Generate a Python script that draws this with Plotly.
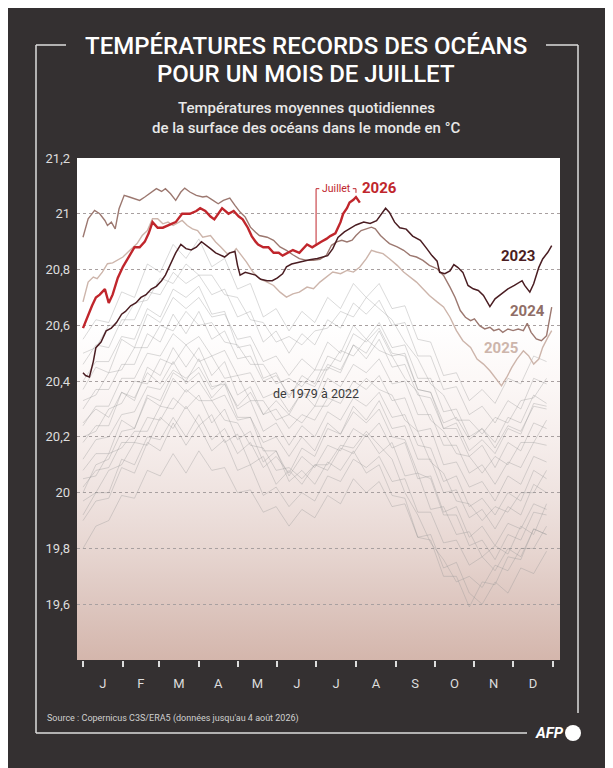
import base64
import plotly.graph_objects as go

# --- données ---
MONTH_STARTS = [0, 31, 59, 90, 120, 151, 181, 212, 243, 273, 304, 334, 365]
MONTH_LABELS = ["J", "F", "M", "A", "M", "J", "J", "A", "S", "O", "N", "D"]
Y_TICKS = [19.6, 19.8, 20.0, 20.2, 20.4, 20.6, 20.8, 21.0, 21.2]
Y_TICK_LABELS = ["19,6", "19,8", "20", "20,2", "20,4", "20,6", "20,8", "21", "21,2"]

DAYS_2026 = [0, 5, 7, 10, 13, 17, 20, 23, 27, 31, 36, 40, 44, 48, 51, 54, 58, 62, 67, 72,
             77, 83, 88, 91, 95, 99, 102, 108, 113, 117, 121, 124, 128, 131, 134, 136, 140,
             144, 148, 152, 155, 159, 163, 168, 174, 178, 181, 185, 189, 192, 196, 200, 202,
             205, 207, 210, 212, 215]
SST_2026 = [20.59, 20.65, 20.67, 20.70, 20.71, 20.73, 20.68, 20.71, 20.77, 20.81, 20.85, 20.88,
            20.88, 20.90, 20.93, 20.97, 20.95, 20.95, 20.96, 20.97, 21.00, 21.00, 21.01, 21.02,
            21.01, 20.99, 20.98, 21.02, 21.00, 21.01, 20.99, 20.98, 20.95, 20.92, 20.90, 20.89,
            20.88, 20.88, 20.86, 20.86, 20.85, 20.86, 20.87, 20.86, 20.89, 20.88, 20.89, 20.90,
            20.91, 20.92, 20.93, 20.97, 21.00, 21.02, 21.04, 21.05, 21.06, 21.04]

DAYS_2023 = [0, 2, 5, 8, 10, 14, 18, 22, 26, 30, 33, 37, 41, 45, 49, 53, 57, 61, 64, 68, 72,
             76, 80, 84, 88, 92, 95, 99, 103, 107, 110, 114, 118, 120, 122, 126, 130, 134, 138,
             143, 147, 151, 155, 158, 162, 166, 171, 176, 182, 186, 190, 194, 198, 203, 209,
             212, 218, 223, 228, 232, 235, 238, 242, 246, 251, 256, 262, 267, 271, 275, 277,
             281, 285, 288, 291, 295, 299, 303, 307, 311, 316, 320, 325, 330, 335, 341, 343,
             347, 350, 354, 357, 361, 364]
SST_2023 = [20.43, 20.42, 20.415, 20.47, 20.52, 20.54, 20.58, 20.59, 20.61, 20.64, 20.65, 20.67,
            20.68, 20.70, 20.71, 20.73, 20.74, 20.76, 20.78, 20.82, 20.86, 20.89, 20.875, 20.87,
            20.88, 20.90, 20.89, 20.875, 20.86, 20.85, 20.845, 20.86, 20.865, 20.815, 20.78,
            20.79, 20.785, 20.78, 20.765, 20.76, 20.76, 20.77, 20.785, 20.81, 20.82, 20.825,
            20.83, 20.835, 20.84, 20.845, 20.85, 20.875, 20.915, 20.935, 20.95, 20.96, 20.97,
            20.965, 20.975, 21.00, 21.02, 21.005, 20.97, 20.95, 20.945, 20.92, 20.905, 20.875,
            20.85, 20.83, 20.79, 20.785, 20.795, 20.818, 20.808, 20.79, 20.743, 20.731, 20.725,
            20.707, 20.667, 20.695, 20.713, 20.731, 20.743, 20.76, 20.743, 20.719, 20.749,
            20.808, 20.838, 20.862, 20.886]

DAYS_2024 = [0, 4, 9, 13, 17, 19, 22, 25, 28, 32, 36, 40, 44, 48, 52, 57, 61, 64, 68, 72, 76,
             79, 83, 88, 93, 96, 101, 105, 109, 114, 118, 122, 126, 130, 134, 137, 143, 148,
             153, 158, 163, 168, 174, 179, 184, 189, 193, 197, 201, 205, 209, 212, 216, 220,
             224, 227, 231, 235, 238, 244, 249, 254, 259, 264, 269, 275, 280, 285, 289, 293,
             297, 301, 304, 308, 312, 316, 319, 323, 326, 330, 334, 338, 342, 345, 348, 352,
             356, 360, 362, 364]
SST_2024 = [20.916, 20.982, 21.012, 21.0, 20.976, 20.958, 20.97, 20.946, 21.018, 21.066, 21.06,
            21.054, 21.048, 21.06, 21.072, 21.09, 21.08, 21.09, 21.072, 21.048, 21.078, 21.092,
            21.078, 21.066, 21.06, 21.063, 21.048, 21.036, 21.048, 21.056, 21.03, 21.006,
            20.988, 20.952, 20.934, 20.922, 20.916, 20.905, 20.881, 20.869, 20.853, 20.839,
            20.833, 20.833, 20.837, 20.851, 20.887, 20.899, 20.905, 20.899, 20.905, 20.922,
            20.94, 20.946, 20.952, 20.946, 20.922, 20.905, 20.893, 20.881, 20.869, 20.851,
            20.845, 20.833, 20.815, 20.803, 20.779, 20.737, 20.70, 20.653, 20.629, 20.617,
            20.623, 20.599, 20.587, 20.593, 20.581, 20.587, 20.575, 20.587, 20.581, 20.587,
            20.581, 20.607, 20.575, 20.551, 20.545, 20.563, 20.617, 20.665]

DAYS_2025 = [0, 4, 8, 11, 15, 19, 23, 27, 31, 35, 39, 42, 46, 50, 54, 58, 62, 66, 70, 74, 77,
             81, 85, 89, 93, 99, 103, 107, 112, 117, 119, 123, 127, 132, 137, 143, 148, 153,
             158, 163, 168, 174, 179, 184, 189, 194, 200, 205, 210, 215, 220, 224, 228, 233,
             238, 244, 249, 254, 259, 264, 269, 275, 280, 285, 290, 295, 301, 306, 311, 316,
             321, 325, 329, 333, 337, 342, 346, 350, 354, 357, 361, 364]
SST_2025 = [20.684, 20.755, 20.773, 20.767, 20.791, 20.821, 20.824, 20.833, 20.845, 20.863,
            20.881, 20.893, 20.922, 20.94, 20.982, 20.982, 20.964, 20.97, 20.958, 20.97, 20.976,
            20.958, 20.946, 20.94, 20.916, 20.922, 20.899, 20.881, 20.857, 20.863, 20.875,
            20.851, 20.827, 20.791, 20.767, 20.755, 20.743, 20.719, 20.701, 20.713, 20.719,
            20.737, 20.731, 20.755, 20.773, 20.791, 20.785, 20.797, 20.791, 20.809, 20.839,
            20.869, 20.863, 20.857, 20.839, 20.815, 20.791, 20.773, 20.755, 20.731, 20.707,
            20.684, 20.666, 20.629, 20.581, 20.545, 20.521, 20.479, 20.461, 20.437, 20.407,
            20.383, 20.413, 20.449, 20.479, 20.509, 20.491, 20.461, 20.479, 20.521, 20.557,
            20.581]

# 1979-2022 (courbes grises, un point tous les 10 jours)
GRAY_DAYS = [0, 10, 20, 30, 40, 50, 60, 70, 80, 90, 100, 110, 120, 130, 140, 150, 160, 170,
             180, 190, 200, 210, 220, 230, 240, 250, 260, 270, 280, 290, 300, 310, 320, 330,
             340, 350, 360]
G01 = [19.80, 19.88, 19.90, 19.99, 19.98, 20.08, 20.06, 20.14, 20.07, 20.15, 20.08, 20.09, 20.00,
       20.01, 19.93, 19.95, 19.88, 19.94, 19.91, 19.99, 19.96, 20.05, 20.00, 20.04, 19.95, 19.96,
       19.84, 19.85, 19.73, 19.75, 19.64, 19.60, 19.68, 19.64, 19.73, 19.71, 19.79]
G02 = [19.90, 19.97, 19.98, 20.09, 20.07, 20.18, 20.15, 20.25, 20.17, 20.24, 20.15, 20.19, 20.08,
       20.10, 19.99, 20.02, 19.95, 20.00, 19.97, 20.06, 20.04, 20.12, 20.09, 20.13, 20.04, 20.05,
       19.93, 19.93, 19.82, 19.83, 19.74, 19.77, 19.72, 19.80, 19.77, 19.87, 19.85]
G03 = [19.97, 20.00, 20.08, 20.10, 20.18, 20.17, 20.27, 20.23, 20.31, 20.24, 20.28, 20.18, 20.21,
       20.10, 20.13, 20.03, 20.08, 20.03, 20.10, 20.08, 20.16, 20.14, 20.21, 20.14, 20.18, 20.06,
       20.07, 19.94, 19.95, 19.85, 19.86, 19.77, 19.81, 19.78, 19.88, 19.85, 19.96]
G04 = [20.02, 20.08, 20.09, 20.18, 20.18, 20.27, 20.26, 20.34, 20.30, 20.35, 20.25, 20.30, 20.19,
       20.22, 20.11, 20.15, 20.06, 20.13, 20.09, 20.17, 20.15, 20.23, 20.20, 20.25, 20.16, 20.18,
       20.05, 20.06, 19.93, 19.95, 19.84, 19.88, 19.81, 19.89, 19.87, 19.96, 19.94]
G05 = [20.08, 20.14, 20.14, 20.26, 20.23, 20.34, 20.31, 20.41, 20.36, 20.40, 20.33, 20.35, 20.26,
       20.27, 20.18, 20.20, 20.13, 20.20, 20.15, 20.25, 20.21, 20.31, 20.26, 20.33, 20.23, 20.24,
       20.12, 20.12, 20.00, 20.01, 19.91, 19.94, 19.87, 19.95, 19.92, 20.03, 20.00]
G06 = [20.12, 20.19, 20.20, 20.28, 20.29, 20.38, 20.37, 20.44, 20.41, 20.45, 20.37, 20.40, 20.30,
       20.33, 20.22, 20.25, 20.17, 20.24, 20.20, 20.29, 20.26, 20.34, 20.31, 20.36, 20.27, 20.28,
       20.17, 20.16, 20.04, 20.06, 19.95, 19.98, 19.92, 20.00, 19.97, 20.08, 20.05]
G07 = [20.18, 20.24, 20.24, 20.36, 20.33, 20.45, 20.42, 20.52, 20.45, 20.52, 20.42, 20.47, 20.35,
       20.38, 20.28, 20.30, 20.23, 20.28, 20.26, 20.34, 20.32, 20.40, 20.37, 20.42, 20.33, 20.34,
       20.22, 20.23, 20.10, 20.11, 20.02, 20.04, 19.97, 20.06, 20.03, 20.13, 20.11]
G08 = [20.24, 20.31, 20.31, 20.41, 20.41, 20.50, 20.49, 20.57, 20.53, 20.56, 20.49, 20.51, 20.42,
       20.43, 20.34, 20.36, 20.29, 20.36, 20.31, 20.41, 20.38, 20.46, 20.43, 20.48, 20.39, 20.40,
       20.28, 20.28, 20.17, 20.17, 20.07, 20.10, 20.03, 20.11, 20.09, 20.18, 20.17]
G09 = [20.30, 20.37, 20.37, 20.46, 20.46, 20.57, 20.54, 20.64, 20.57, 20.65, 20.55, 20.58, 20.48,
       20.49, 20.40, 20.42, 20.35, 20.40, 20.38, 20.46, 20.44, 20.53, 20.48, 20.55, 20.45, 20.46,
       20.35, 20.34, 20.23, 20.23, 20.13, 20.17, 20.09, 20.18, 20.15, 20.25, 20.23]
G10 = [20.37, 20.45, 20.43, 20.55, 20.52, 20.64, 20.61, 20.70, 20.66, 20.70, 20.63, 20.64, 20.55,
       20.56, 20.47, 20.49, 20.42, 20.48, 20.44, 20.54, 20.50, 20.60, 20.55, 20.61, 20.52, 20.53,
       20.41, 20.41, 20.29, 20.30, 20.20, 20.23, 20.16, 20.24, 20.22, 20.31, 20.30]
G11 = [20.46, 20.53, 20.52, 20.62, 20.62, 20.72, 20.71, 20.79, 20.75, 20.78, 20.71, 20.73, 20.63,
       20.65, 20.54, 20.58, 20.50, 20.57, 20.53, 20.62, 20.59, 20.68, 20.64, 20.69, 20.60, 20.61,
       20.49, 20.49, 20.37, 20.38, 20.28, 20.31, 20.25, 20.33, 20.30, 20.41, 20.39]
G12 = [20.55, 20.62, 20.61, 20.72, 20.70, 20.82, 20.79, 20.89, 20.84, 20.91, 20.81, 20.84, 20.73,
       20.75, 20.63, 20.66, 20.58, 20.65, 20.61, 20.70, 20.66, 20.75, 20.70, 20.75, 20.66, 20.67,
       20.55, 20.54, 20.42, 20.43, 20.33, 20.37, 20.32, 20.41, 20.39, 20.49, 20.47]
G13 = [20.00, 20.10, 20.12, 20.22, 20.23, 20.35, 20.33, 20.43, 20.40, 20.48, 20.38, 20.39, 20.27,
       20.27, 20.15, 20.15, 20.04, 20.08, 20.03, 20.11, 20.08, 20.15, 20.07, 20.10, 19.99, 19.98,
       19.84, 19.83, 19.70, 19.70, 19.59, 19.68, 19.67, 19.77, 19.76, 19.87, 19.85]
G14 = [20.25, 20.30, 20.27, 20.36, 20.34, 20.43, 20.39, 20.47, 20.39, 20.43, 20.34, 20.39, 20.31,
       20.36, 20.28, 20.33, 20.28, 20.36, 20.34, 20.45, 20.43, 20.53, 20.50, 20.58, 20.49, 20.50,
       20.37, 20.36, 20.25, 20.27, 20.19, 20.23, 20.18, 20.27, 20.25, 20.35, 20.32]
G15 = [20.40, 20.47, 20.47, 20.56, 20.55, 20.66, 20.63, 20.73, 20.70, 20.74, 20.64, 20.65, 20.52,
       20.53, 20.41, 20.43, 20.34, 20.42, 20.39, 20.49, 20.47, 20.57, 20.54, 20.59, 20.50, 20.49,
       20.37, 20.36, 20.23, 20.25, 20.15, 20.19, 20.14, 20.23, 20.21, 20.32, 20.31]
G16 = [19.92, 20.00, 20.00, 20.12, 20.10, 20.20, 20.19, 20.27, 20.20, 20.28, 20.19, 20.23, 20.14,
       20.18, 20.09, 20.13, 20.07, 20.16, 20.13, 20.23, 20.21, 20.29, 20.25, 20.30, 20.20, 20.19,
       20.07, 20.05, 19.92, 19.92, 19.81, 19.83, 19.76, 19.85, 19.83, 19.93, 19.92]
G17 = [20.05, 20.06, 20.14, 20.16, 20.22, 20.22, 20.31, 20.30, 20.37, 20.33, 20.33, 20.26, 20.25,
       20.17, 20.16, 20.08, 20.09, 20.05, 20.10, 20.10, 20.17, 20.16, 20.22, 20.17, 20.12, 20.00,
       19.92, 19.82, 19.76, 19.68, 19.70, 19.66, 19.74, 19.72, 19.80, 19.80, 19.88]
G18 = [20.20, 20.22, 20.30, 20.32, 20.40, 20.39, 20.48, 20.46, 20.53, 20.47, 20.49, 20.41, 20.42,
       20.33, 20.33, 20.26, 20.28, 20.25, 20.31, 20.31, 20.37, 20.36, 20.41, 20.37, 20.35, 20.26,
       20.22, 20.11, 20.07, 19.97, 19.96, 19.90, 19.95, 19.93, 20.00, 20.00, 20.08]
G19 = [20.33, 20.35, 20.43, 20.44, 20.52, 20.52, 20.60, 20.58, 20.65, 20.60, 20.61, 20.54, 20.53,
       20.46, 20.46, 20.39, 20.41, 20.38, 20.44, 20.44, 20.51, 20.49, 20.55, 20.51, 20.49, 20.41,
       20.36, 20.26, 20.22, 20.14, 20.13, 20.07, 20.13, 20.10, 20.18, 20.18, 20.26]
G20 = [20.50, 20.52, 20.60, 20.60, 20.68, 20.69, 20.77, 20.75, 20.82, 20.78, 20.78, 20.71, 20.70,
       20.62, 20.61, 20.54, 20.56, 20.53, 20.58, 20.59, 20.65, 20.63, 20.70, 20.66, 20.62, 20.54,
       20.48, 20.39, 20.35, 20.26, 20.26, 20.21, 20.27, 20.25, 20.33, 20.34, 20.41]
GRAY_SERIES = [G01, G02, G03, G04, G05, G06, G07, G08, G09, G10,
               G11, G12, G13, G14, G15, G16, G17, G18, G19, G20]

# --- styles ---
BG = "#343031"
RED = "#c0262c"
C2023 = "#4a1d22"
C2024 = "#9c7870"
C2025 = "#cdb5ab"
FONT = "Roboto"

# positions dans la page (la page décale la figure de 8 px)
OFF = 8
FIG_W, FIG_H = 613, 768
PLOT_L, PLOT_R, PLOT_T, PLOT_B = 77, 560, 158, 660


def paper(x, y):
    return (x - PLOT_L) / (PLOT_R - PLOT_L), (PLOT_B - y) / (PLOT_B - PLOT_T)


fig = go.Figure()

for serie in GRAY_SERIES:
    fig.add_trace(go.Scatter(x=GRAY_DAYS, y=serie, mode="lines",
                             line=dict(color="rgba(150,150,150,0.45)", width=0.8)))

fig.add_trace(go.Scatter(x=DAYS_2025, y=SST_2025, mode="lines", line=dict(color=C2025, width=1.4)))
fig.add_trace(go.Scatter(x=DAYS_2024, y=SST_2024, mode="lines", line=dict(color=C2024, width=1.4)))
fig.add_trace(go.Scatter(x=DAYS_2023, y=SST_2023, mode="lines", line=dict(color=C2023, width=1.5)))
fig.add_trace(go.Scatter(x=DAYS_2026, y=SST_2026, mode="lines", line=dict(color=RED, width=2.4)))

# fond dégradé de la zone de tracé
svg = ('<svg xmlns="http://www.w3.org/2000/svg" width="10" height="100" viewBox="0 0 10 100" '
       'preserveAspectRatio="none"><defs><linearGradient id="g" x1="0" y1="0" x2="0" y2="1">'
       '<stop offset="0" stop-color="#ffffff"/><stop offset="0.33" stop-color="#ffffff"/>'
       '<stop offset="0.44" stop-color="#fcf8f7"/><stop offset="0.56" stop-color="#f6eeec"/>'
       '<stop offset="0.67" stop-color="#efe3e0"/><stop offset="0.78" stop-color="#e7d6d1"/>'
       '<stop offset="0.89" stop-color="#ddc6bf"/><stop offset="1" stop-color="#d4b6ac"/>'
       '</linearGradient></defs><rect width="10" height="100" fill="url(#g)"/></svg>')
svg_uri = "data:image/svg+xml;base64," + base64.b64encode(svg.encode()).decode()

# cadre
frame = [((36, 45), (66, 45)), ((546, 45), (578, 45)), ((36, 45), (36, 733)),
         ((578, 45), (578, 713)), ((36, 733), (527, 733))]
shapes = []
for (xa, ya), (xb, yb) in frame:
    x0, y0 = paper(xa, ya)
    x1, y1 = paper(xb, yb)
    shapes.append(dict(type="line", xref="paper", yref="paper", x0=x0, y0=y0, x1=x1, y1=y1,
                       line=dict(color="#dcdcdc", width=1.5)))

# logo AFP (rond)
cx0, cy0 = paper(565, 741)
cx1, cy1 = paper(581, 725)
shapes.append(dict(type="circle", xref="paper", yref="paper", x0=cx0, y0=cy0, x1=cx1, y1=cy1,
                   fillcolor="white", line=dict(width=0)))

# accolade "Juillet"
jul, aug = MONTH_STARTS[6], MONTH_STARTS[7]
jul_val = SST_2026[DAYS_2026.index(jul)]
top = 21.09
br = dict(color=RED, width=1)
shapes += [
    dict(type="line", x0=jul, x1=jul, y0=jul_val, y1=top, line=br),
    dict(type="line", x0=jul, x1=jul + 2.5, y0=top, y1=top, line=br),
    dict(type="line", x0=aug - 2.5, x1=aug, y0=top, y1=top, line=br),
    dict(type="line", x0=aug, x1=aug, y0=top, y1=top - 0.015, line=br),
]

annotations = []


def ptext(x, y, text, size, color, xanchor="center", weight="normal", style="normal"):
    px_, py_ = paper(x, y)
    annotations.append(dict(x=px_, y=py_, xref="paper", yref="paper", text=text, showarrow=False,
                            xanchor=xanchor, yanchor="middle",
                            font=dict(family=FONT, size=size, color=color, weight=weight,
                                      style=style)))


ptext(306, 46, "TEMPÉRATURES RECORDS DES OCÉANS", 24, "white", weight=500)
ptext(306, 74, "POUR UN MOIS DE JUILLET", 24, "white", weight=500)
ptext(306, 108, "Températures moyennes quotidiennes", 15, "#e8e8e8", weight=500)
ptext(306, 128, "de la surface des océans dans le monde en °C", 15, "#e8e8e8", weight=500)
ptext(45, 718, "Source : Copernicus C3S/ERA5 (données jusqu'au 4 août 2026)", 9, "#d0d0d0",
      xanchor="left")
ptext(549, 733, "AFP", 15, "white", weight="bold", style="italic")


def dtext(x, y, text, size, color, weight="bold"):
    annotations.append(dict(x=x, y=y, xref="x", yref="y", text=text, showarrow=False,
                            xanchor="center", yanchor="middle",
                            font=dict(family=FONT, size=size, color=color, weight=weight)))


dtext(230.6, 21.091, "2026", 15, RED)
dtext(197, 21.09, "Juillet", 10.5, RED, weight="normal")
dtext(337.7, 20.847, "2023", 15, C2023)
dtext(345.5, 20.652, "2024", 15, "#906e67")
dtext(324.5, 20.519, "2025", 15, C2025)
dtext(181, 20.354, "de 1979 à 2022", 12.5, "#3a3a3a", weight="normal")

month_mids = [(a + b) / 2 for a, b in zip(MONTH_STARTS[:-1], MONTH_STARTS[1:])]

fig.update_layout(
    width=FIG_W, height=FIG_H,
    margin=dict(l=PLOT_L - OFF, r=FIG_W + OFF - PLOT_R, t=PLOT_T - OFF, b=FIG_H + OFF - PLOT_B),
    paper_bgcolor=BG, plot_bgcolor="white",
    showlegend=False, hovermode=False,
    separators=", ",
    font=dict(family=FONT, color="#dddddd"),
    images=[dict(source=svg_uri, xref="paper", yref="paper", x=0, y=1, sizex=1, sizey=1,
                 xanchor="left", yanchor="top", sizing="stretch", layer="below")],
    shapes=shapes,
    annotations=annotations,
    xaxis=dict(range=[-4.66, 370.44], tickvals=month_mids, ticktext=MONTH_LABELS, ticks="",
               showgrid=False, zeroline=False, showline=False, ticklabelstandoff=14,
               tickfont=dict(size=13, color="#dddddd"),
               minor=dict(tickvals=MONTH_STARTS, ticks="outside", ticklen=6, tickwidth=1.5,
                          tickcolor="#dddddd", showgrid=False)),
    yaxis=dict(range=[19.4, 21.2], tickvals=Y_TICKS, ticktext=Y_TICK_LABELS, ticks="",
               showgrid=True, gridcolor="#a8a0a0", gridwidth=0.8, griddash="3px,3px",
               zeroline=False, showline=False, ticklabelstandoff=6,
               tickfont=dict(size=13, color="#dddddd")),
)

fig.write_html("out.html")
